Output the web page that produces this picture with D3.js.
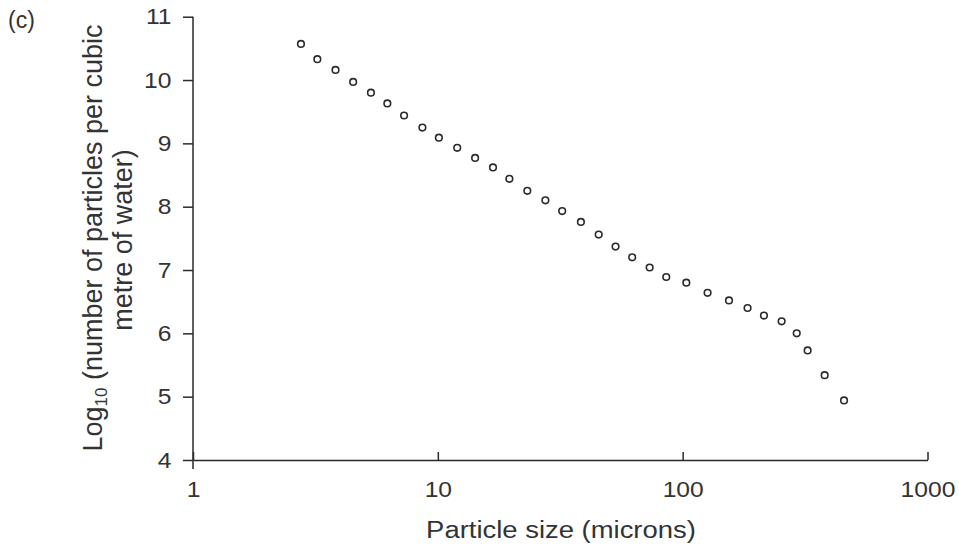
<!DOCTYPE html>
<html><head><meta charset="utf-8">
<script src="https://cdn.jsdelivr.net/npm/d3@7"></script>
<style>
body{margin:0;background:#fff;}
svg{display:block;font-family:"Liberation Sans",Arial,Helvetica,sans-serif;}
</style></head>
<body>
<svg id="chart" width="959" height="545"></svg>
<script>
const sizes = [2.76,3.22,3.82,4.51,5.33,6.22,7.28,8.65,10.1,12.0,14.2,16.8,19.6,23.2,27.5,32.2,38.4,45.4,53.2,62.2,73.3,85.7,103.5,126.4,154.6,184.1,214.8,253.6,292.3,323.9,380.2,456.2];
const logCounts = [10.57,10.33,10.16,9.97,9.80,9.63,9.44,9.25,9.09,8.93,8.77,8.62,8.44,8.25,8.10,7.93,7.76,7.56,7.37,7.20,7.04,6.89,6.80,6.64,6.52,6.40,6.28,6.19,6.00,5.73,5.34,4.94];
const xTicks = [1,10,100,1000];
const yTicks = [4,5,6,7,8,9,10,11];

const svg = d3.select("#chart");
const ink = "#2a2a2a";
const txt = "#333";
const sx = 1.12; // horizontal stretch of lettering in the original
const x = d3.scaleLog().domain([1,1000]).range([193,927.5]);
const y = d3.scaleLinear().domain([4,11]).range([460,16.7]);

// y axis
const gy = svg.append("g").attr("transform","translate(193,0)")
  .call(d3.axisLeft(y).tickValues(yTicks).tickSize(10).tickSizeOuter(0).tickPadding(11).tickFormat(d3.format("d")));
gy.select(".domain").remove();
gy.selectAll("line").attr("stroke",ink).attr("stroke-width",1.5);
gy.selectAll("text").attr("fill",txt).attr("font-size",22)
  .attr("x",-21.5/sx).attr("transform",`scale(${sx},1)`);
svg.append("line").attr("x1",193).attr("x2",193).attr("y1",y(11)).attr("y2",469)
  .attr("stroke",ink).attr("stroke-width",1.5);

// x axis
const gx = svg.append("g").attr("transform","translate(0,460)")
  .call(d3.axisBottom(x).tickValues(xTicks).tickSize(-8).tickSizeOuter(0).tickPadding(21).tickFormat(d3.format("d")));
gx.select(".domain").attr("stroke",ink).attr("stroke-width",1.5);
gx.selectAll("line").attr("stroke",ink).attr("stroke-width",1.5);
gx.selectAll("text").attr("fill",txt).attr("font-size",22).attr("transform",`scale(${sx},1)`);

// points
svg.append("g").selectAll("circle").data(sizes.map((s,i)=>[s,logCounts[i]])).join("circle")
  .attr("cx",d=>x(d[0])).attr("cy",d=>y(d[1])).attr("r",3.3)
  .attr("fill","none").attr("stroke",ink).attr("stroke-width",1.6);

// labels
svg.append("text").attr("transform",`scale(${sx},1)`).attr("x",561/sx).attr("y",538).attr("text-anchor","middle")
  .attr("font-size",24.5).attr("fill",txt).text("Particle size (microns)");

const yl = svg.append("text").attr("transform","rotate(-90)")
  .attr("text-anchor","middle").attr("font-size",27).attr("fill",txt);
yl.append("tspan").attr("x",-238).attr("y",101.5).text("Log");
yl.append("tspan").attr("font-size",17).attr("dy",5).text("10");
yl.append("tspan").attr("dy",-5).text(" (number of particles per cubic");
yl.append("tspan").attr("x",-240).attr("y",131.5).text("metre of water)");

svg.append("text").attr("x",8).attr("y",28).attr("font-size",23).attr("fill",txt).text("(c)");
</script>
</body></html>
